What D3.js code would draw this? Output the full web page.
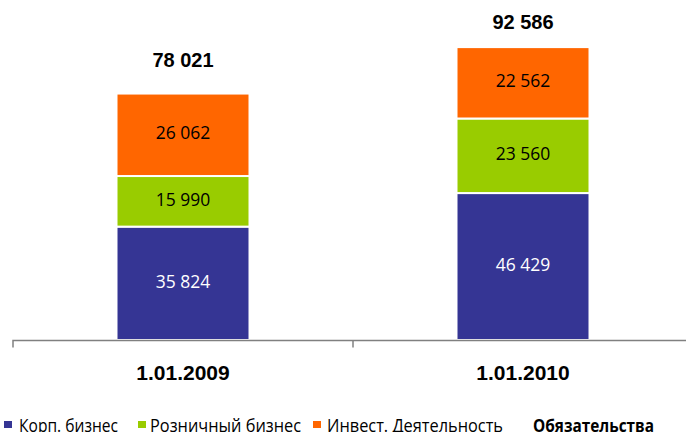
<!DOCTYPE html>
<html><head><meta charset="utf-8">
<script src="https://cdn.jsdelivr.net/npm/d3@7"></script>
<style>body{margin:0;background:#fff}svg{display:block}</style>
</head><body><svg id="c" width="686" height="432"></svg>
<script>
const categories = ["1.01.2009", "1.01.2010"];
const seriesNames = ["Корп. бизнес", "Розничный бизнес", "Инвест. Деятельность"];
const corp = [35824, 46429];
const retail = [15990, 23560];
const invest = [26062, 22562];
const totals = [78021, 92586];
const valueLabels = [["35 824", "46 429"], ["15 990", "23 560"], ["26 062", "22 562"]];
const totalLabels = ["78 021", "92 586"];
const legendTitle = "Обязательства";
const colors = ["#353594", "#99cc00", "#ff6600"];

const svg = d3.select("#c");
const x = d3.scaleBand().domain(categories).range([13, 693]).paddingInner(0).paddingOuter(0);
const y = d3.scaleLinear().domain([0, 92586]).range([340, 47]);
const barW = 133;

const data = categories.map((c, i) => ({cat: c, corp: corp[i], retail: retail[i], invest: invest[i]}));
const stack = d3.stack().keys(["corp", "retail", "invest"])(data);

stack.forEach((layer, si) => {
  layer.forEach((d, ci) => {
    const cx = x(categories[ci]) + x.bandwidth() / 2;
    svg.append("rect")
      .attr("x", cx - barW / 2)
      .attr("y", y(d[1]))
      .attr("width", barW)
      .attr("height", y(d[0]) - y(d[1]))
      .attr("fill", colors[si])
      .attr("stroke", "#fff").attr("stroke-width", 2);
    svg.append("text")
      .attr("x", cx).attr("y", (y(d[0]) + y(d[1])) / 2 + 4.5)
      .attr("text-anchor", "middle")
      .attr("font-family", "'Open Sans', sans-serif").attr("font-size", 17.5)
      .attr("fill", si === 0 ? "#fff" : "#000")
      .text(valueLabels[si][ci]);
  });
});

// totals (label gap above bar differs per category in the original)
const totalGap = [26, 18];
categories.forEach((c, i) => {
  const cx = x(c) + x.bandwidth() / 2;
  svg.append("text").attr("x", cx).attr("y", y(totals[i]) - totalGap[i])
    .attr("text-anchor", "middle").attr("font-family", "'Liberation Sans', Arial, sans-serif")
    .attr("font-weight", "bold").attr("font-size", 20).attr("fill", "#000")
    .text(totalLabels[i]);
});

// axis
const axis = d3.axisBottom(x).tickSize(0).tickFormat("");
const g = svg.append("g").attr("transform", "translate(0,340.5)").call(axis);
g.select(".domain").attr("stroke", "#808080").attr("stroke-width", 1.5).attr("d", "M13,7V0H686");
[x(categories[1])].forEach(px => {
  svg.append("line").attr("x1", px).attr("x2", px).attr("y1", 340.5).attr("y2", 347.5)
    .attr("stroke", "#808080").attr("stroke-width", 1.5);
});
categories.forEach(c => {
  svg.append("text").attr("x", x(c) + x.bandwidth() / 2).attr("y", 380)
    .attr("text-anchor", "middle").attr("font-family", "'Liberation Sans', Arial, sans-serif")
    .attr("font-weight", "bold").attr("font-size", 21).attr("fill", "#000")
    .text(c);
});

// legend
const legPos = [{sq: 4, tx: 19, w: 99}, {sq: 138, tx: 150, w: 151}, {sq: 313, tx: 327, w: 176}];
seriesNames.forEach((n, i) => {
  svg.append("rect").attr("x", legPos[i].sq).attr("y", 421).attr("width", 8).attr("height", 7).attr("fill", colors[i]);
  svg.append("text").attr("x", legPos[i].tx).attr("y", 431.5)
    .attr("font-family", "'Open Sans', sans-serif").attr("font-size", 18).attr("fill", "#000")
    .attr("textLength", legPos[i].w).attr("lengthAdjust", "spacingAndGlyphs")
    .text(n);
});
svg.append("text").attr("x", 533).attr("y", 431.5)
  .attr("font-family", "'Open Sans', sans-serif").attr("font-weight", "bold").attr("font-size", 18)
  .attr("textLength", 121).attr("lengthAdjust", "spacingAndGlyphs").attr("fill", "#000")
  .text(legendTitle);
</script></body></html>
